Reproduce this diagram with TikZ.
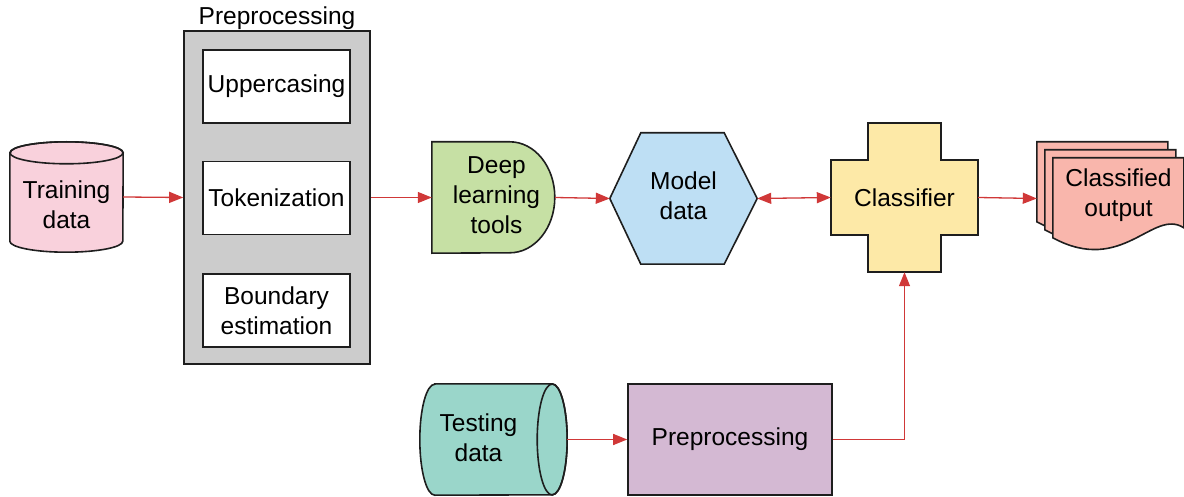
\documentclass[tikz,border=0pt]{standalone}
\usepackage{fontspec}
\setmainfont{Liberation Sans}
\usetikzlibrary{arrows.meta,positioning}
\definecolor{trainpink}{RGB}{249,209,220}
\definecolor{groupgrey}{RGB}{204,204,204}
\definecolor{toolgreen}{RGB}{198,224,164}
\definecolor{modelblue}{RGB}{190,223,244}
\definecolor{classyellow}{RGB}{253,233,167}
\definecolor{outsalmon}{RGB}{249,182,172}
\definecolor{testteal}{RGB}{154,214,202}
\definecolor{prepurple}{RGB}{212,185,211}
\definecolor{flowred}{RGB}{208,56,56}
\definecolor{edgeblack}{RGB}{30,30,30}
\tikzset{
  shapeline/.style = {draw=edgeblack, line width=1.6pt, line join=miter},
  holder/.style = {inner sep=0pt, align=center},
  stepbox/.style = {shapeline, fill=white, minimum width=147pt, minimum height=73pt, align=center},
  flow/.style = {flowred, line width=1.3pt, -{Triangle[length=14pt,width=11pt]}},
}
\begin{document}
\begin{tikzpicture}[x=1pt, y=1pt, font=\fontsize{24.5}{30}\selectfont]
  \useasboundingbox (0,0) rectangle (1184,-497);
  % nodes
  \node[holder, minimum width=113pt, minimum height=110pt] (td) at (66.5,-197) {};
  \node[shapeline, fill=groupgrey, minimum width=186pt, minimum height=333pt] (pre) at (277,-197.5) {};
  \node[inner sep=0pt, above=0pt of pre] (pretitle) {Preprocessing};
  \node[stepbox] (up) at (276.5,-86.5) {Uppercasing};
  \node[stepbox, below=37pt of up] (tok) {Tokenization};
  \node[stepbox, below=38pt of tok] (bnd) {Boundary\\estimation};
  \node[holder, minimum width=123pt, minimum height=111pt] (dlt) at (493.5,-197.5) {};
  \node[holder, minimum width=147pt, minimum height=131pt] (md) at (683.5,-198.5) {};
  \node[holder, minimum width=147pt, minimum height=149pt] (cl) at (904.5,-197.5) {};
  \node[holder, minimum width=147pt, minimum height=113pt] (co) at (1110.5,-198.5) {};
  \node[holder, minimum width=147pt, minimum height=111pt] (tst) at (493.5,-439.5) {};
  \node[shapeline, fill=prepurple, minimum width=204pt, minimum height=111pt] (prep) at (730,-439.5) {Preprocessing};
  % training data
  \draw[shapeline, fill=trainpink]
    ([yshift=-11pt]td.north west) -- ([yshift=11pt]td.south west)
    arc[start angle=180, end angle=360, x radius=56.5, y radius=11]
    -- ([yshift=-11pt]td.north east)
    arc[start angle=0, end angle=180, x radius=56.5, y radius=11] -- cycle;
  \draw[shapeline] ([yshift=-11pt]td.north) ellipse[x radius=56.5, y radius=11];
  \node[holder] at ([yshift=-8pt]td.center) {Training\\data};
  % deep learning tools
  \draw[shapeline, fill=toolgreen]
    (dlt.south west) -- (dlt.north west) -- ++(78,0)
    arc[start angle=90, end angle=-90, x radius=45, y radius=55.5] -- cycle;
  \node[holder] at ([xshift=3pt,yshift=2pt]dlt.center) {Deep\\learning\\tools};
  % model data
  \draw[shapeline, fill=modelblue]
    (md.west) -- ([xshift=31pt]md.north west) -- ([xshift=-33pt]md.north east)
    -- (md.east) -- ([xshift=-33pt]md.south east) -- ([xshift=31pt]md.south west) -- cycle;
  \node[holder] at ([yshift=3pt]md.center) {Model\\data};
  % classifier
  \draw[shapeline, fill=classyellow]
    ([xshift=37pt]cl.north west) -- ([xshift=-37pt]cl.north east)
    -- ++(0,-37) -- ([yshift=-37pt]cl.north east) -- ([yshift=37pt]cl.south east)
    -- ++(-37,0) -- ([xshift=-37pt]cl.south east) -- ([xshift=37pt]cl.south west)
    -- ++(0,37) -- ([yshift=37pt]cl.south west) -- ([yshift=-37pt]cl.north west)
    -- ++(37,0) -- cycle;
  \node[holder] at (cl.center) {Classifier};
  % classified output
  \foreach \d in {0,8,16}{
    \begin{scope}[shift={(co.north west)}, shift={(\d,-\d)}]
      \draw[shapeline, fill=outsalmon]
        (0,0) -- (131,0) -- (131,-70)
        .. controls (100,-50) and (70,-118) .. (0,-80) -- cycle;
    \end{scope}
  }
  \node[holder] at ([xshift=8pt,yshift=3pt]co.center) {Classified\\output};
  % testing data
  \draw[shapeline, fill=testteal]
    ([xshift=15pt]tst.north west) -- ([xshift=-15pt]tst.north east)
    arc[start angle=90, end angle=-90, x radius=15, y radius=55.5]
    -- ([xshift=15pt]tst.south west)
    arc[start angle=270, end angle=90, x radius=15, y radius=55.5] -- cycle;
  \draw[shapeline] ([xshift=-15pt]tst.east) ellipse[x radius=15, y radius=55.5];
  \node[holder] at ([xshift=-15pt,yshift=2pt]tst.center) {Testing\\data};
  % arrows
  \draw[flow] (td.east) -- (pre.west);
  \draw[flow] (pre.east) -- (dlt.west);
  \draw[flow] (dlt.east) -- (md.west);
  \draw[flow, {Triangle[length=14pt,width=11pt]}-{Triangle[length=14pt,width=11pt]}] (md.east) -- (cl.west);
  \draw[flow] (cl.east) -- (co.west);
  \draw[flow] (tst.east) -- (prep.west);
  \draw[flow] (prep.east) -- (cl.south |- prep.east) -- (cl.south);
\end{tikzpicture}
\end{document}
